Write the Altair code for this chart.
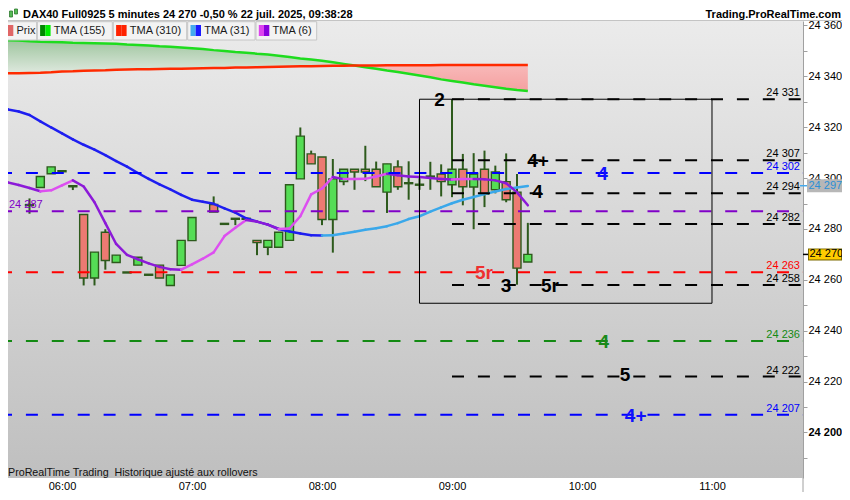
import altair as alt
import pandas as pd

FONT = "Liberation Sans"
W, H = 795, 457
X_DOM = [5.58462, 11.7]
Y_DOM = [24182.11, 24361.75]

# ---------------- data ----------------
title_left = "DAX40 Full0925 5 minutes 24 270 -0,50 % 22 juil. 2025, 09:38:28"
title_right = "Trading.ProRealTime.com"
footer = "ProRealTime Trading\u00a0\u00a0Historique ajusté aux rollovers"

candle_time = ["05:45", "05:50", "05:55", "06:00", "06:05", "06:10", "06:15", "06:20", "06:25", "06:30",
               "06:35", "06:40", "06:45", "06:50", "06:55", "07:00", "07:10", "07:15", "07:20", "07:25",
               "07:30", "07:35", "07:40", "07:45", "07:50", "07:55", "08:00", "08:05", "08:10", "08:15",
               "08:20", "08:25", "08:30", "08:35", "08:40", "08:45", "08:50", "08:55", "09:00", "09:05",
               "09:10", "09:15", "09:20", "09:25", "09:30", "09:35"]
candle_open = [24289.2, 24296.3, 24301.7, 24302.9, 24297.0, 24285.7, 24260.7, 24278.7, 24266.8, 24263.1,
               24265.8, 24262.2, 24265.8, 24257.8, 24265.7, 24275.4, 24289.6, 24282.2, 24284.2, 24284.2,
               24275.5, 24272.8, 24272.8, 24275.5, 24299.7, 24309.5, 24308.3, 24283.7, 24298.6, 24303.5,
               24303.5, 24303.5, 24294.5, 24304.4, 24298.2, 24297.6, 24300.8, 24301.6, 24297.4, 24303.5,
               24296.5, 24303.5, 24295.4, 24298.6, 24294.5, 24267.0]
candle_high = [24292.0, 24300.6, 24304.4, 24303.0, 24297.1, 24285.7, 24270.9, 24279.9, 24269.7, 24263.1,
               24268.9, 24262.2, 24265.8, 24261.9, 24275.5, 24284.5, 24292.8, 24282.2, 24284.2, 24284.2,
               24275.5, 24275.5, 24278.7, 24297.4, 24319.9, 24310.8, 24308.3, 24307.5, 24303.5, 24303.5,
               24312.7, 24306.5, 24305.6, 24307.0, 24306.6, 24299.9, 24306.4, 24305.4, 24331.0, 24309.5,
               24309.8, 24310.8, 24304.9, 24309.7, 24301.6, 24282.4]
candle_low = [24286.0, 24296.3, 24301.7, 24302.5, 24295.3, 24257.8, 24257.8, 24264.0, 24266.8, 24262.7,
              24265.8, 24261.8, 24260.7, 24257.8, 24265.7, 24275.4, 24286.7, 24281.8, 24281.5, 24283.8,
              24269.7, 24269.7, 24272.8, 24275.5, 24299.7, 24305.6, 24281.5, 24270.7, 24297.2, 24295.4,
              24298.8, 24296.6, 24286.3, 24295.4, 24291.5, 24295.4, 24295.4, 24292.8, 24292.5, 24289.3,
              24279.9, 24288.6, 24294.0, 24290.5, 24258.1, 24267.0]
candle_close = [24289.6, 24300.6, 24304.4, 24302.5, 24296.6, 24260.7, 24270.9, 24267.6, 24269.7, 24262.7,
                24268.9, 24261.8, 24260.7, 24261.9, 24275.5, 24284.5, 24286.7, 24281.8, 24283.8, 24283.8,
                24274.7, 24275.5, 24278.7, 24297.4, 24316.5, 24305.6, 24283.7, 24299.7, 24303.5, 24302.4,
                24302.4, 24296.6, 24305.6, 24296.6, 24297.8, 24297.2, 24300.4, 24298.6, 24303.5, 24296.6,
                24301.6, 24293.6, 24302.4, 24291.5, 24264.6, 24270.0]

ma_time = ["05:30", "05:35", "05:40", "05:45", "05:50", "05:55", "06:00", "06:05", "06:10", "06:15",
           "06:20", "06:25", "06:30", "06:35", "06:40", "06:45", "06:50", "06:55", "07:00", "07:05",
           "07:10", "07:15", "07:20", "07:25", "07:30", "07:35", "07:40", "07:45", "07:50", "07:55",
           "08:00", "08:05", "08:10", "08:15", "08:20", "08:25", "08:30", "08:35", "08:40", "08:45",
           "08:50", "08:55", "09:00", "09:05", "09:10", "09:15", "09:20", "09:25", "09:30", "09:35"]
tma155 = [24354.4, 24354.2, 24354.1, 24353.8, 24353.6, 24353.5, 24353.4, 24353.2, 24353.1, 24353.0,
          24352.9, 24352.8, 24352.5, 24352.3, 24352.1, 24351.8, 24351.6, 24351.3, 24351.0, 24350.7,
          24350.3, 24350.0, 24349.6, 24349.3, 24348.9, 24348.6, 24348.1, 24347.6, 24347.0, 24346.6,
          24346.1, 24345.5, 24344.9, 24344.3, 24343.6, 24343.0, 24342.3, 24341.7, 24341.0, 24340.3,
          24339.6, 24338.8, 24338.2, 24337.6, 24336.9, 24336.3, 24335.7, 24335.1, 24334.6, 24334.2]
tma310 = [24341.1, 24341.2, 24341.2, 24341.3, 24341.4, 24341.6, 24341.9, 24342.0, 24342.2, 24342.3,
          24342.4, 24342.6, 24342.7, 24342.8, 24342.8, 24342.9, 24343.0, 24343.0, 24343.1, 24343.2,
          24343.3, 24343.3, 24343.5, 24343.5, 24343.6, 24343.7, 24343.8, 24343.9, 24344.0, 24344.0,
          24344.1, 24344.2, 24344.2, 24344.3, 24344.3, 24344.3, 24344.4, 24344.4, 24344.4, 24344.4,
          24344.4, 24344.5, 24344.5, 24344.5, 24344.5, 24344.5, 24344.5, 24344.5, 24344.5, 24344.5]
tma31 = [24329.1, 24327.0, 24326.2, 24324.8, 24322.3, 24319.9, 24317.6, 24315.2, 24313.1, 24311.2,
         24309.0, 24306.7, 24304.5, 24302.0, 24299.7, 24297.5, 24295.6, 24293.4, 24291.5, 24290.7,
         24289.9, 24288.1, 24286.4, 24284.2, 24282.9, 24281.7, 24280.0, 24279.0, 24278.2, 24277.5,
         24277.4, 24277.5, 24278.2, 24278.9, 24279.7, 24280.3, 24281.1, 24282.3, 24283.9, 24285.0,
         24286.8, 24288.5, 24290.1, 24291.5, 24292.6, 24293.7, 24294.7, 24295.7, 24296.3, 24296.9]
tma6 = [24299.5, 24298.3, 24297.3, 24296.1, 24294.8, 24295.2, 24297.1, 24299.1, 24296.7, 24290.5,
        24282.3, 24274.1, 24269.8, 24268.1, 24266.5, 24265.1, 24264.2, 24264.0, 24266.1, 24268.3,
        24270.8, 24277.2, 24280.5, 24283.5, 24282.9, 24281.7, 24280.0, 24280.2, 24285.0, 24293.6,
        24295.9, 24300.4, 24299.6, 24299.6, 24299.7, 24300.6, 24301.7, 24301.1, 24300.6, 24300.4,
        24300.0, 24299.6, 24299.4, 24299.6, 24299.6, 24299.5, 24299.1, 24298.0, 24294.4, 24289.3]

level_price = [24331, 24307, 24302, 24294, 24287, 24282, 24263, 24258, 24236, 24222, 24207]
level_color = ["#000000", "#000000", "#0000ff", "#000000", "#8000c8", "#000000",
               "#ff0000", "#000000", "#138a13", "#000000", "#0000ff"]
level_from = ["09:00", "09:00", "", "09:00", "", "09:00", "", "09:00", "", "09:00", ""]

note_text = ["2", "4+", "4", "4", "5r", "3", "5r", "4", "5", "4+"]
note_hour = [8.904, 9.662, 10.158, 9.658, 9.246, 9.415, 9.754, 10.167, 10.331, 10.413]
note_price = [24331, 24307, 24302, 24295, 24263, 24258, 24258, 24236, 24223, 24207]
note_color = ["#000000", "#000000", "#1010ff", "#000000", "#ee3030", "#000000",
              "#000000", "#1a8a1a", "#000000", "#1010ff"]

box_from, box_to = "08:45", "11:00"
box_low, box_high = 24250.8, 24331

last_price = 24270
last_tma31 = 24297

legend_names = ["Prix", "TMA (155)", "TMA (310)", "TMA (31)", "TMA (6)"]
legend_col_a = ["#55cc55", "#008800", "#ff2200", "#44aaee", "#dd44ee"]
legend_col_b = ["#e06666", "#00ee00", "#ff2200", "#1a1aff", "#8800dd"]
legend_x0 = [0, 37.3, 113.3, 187.7, 256]
legend_x1 = [36.7, 112.3, 186.7, 255, 316.7]

y_tick_values = [24190, 24200, 24210, 24220, 24230, 24240, 24250, 24260, 24270, 24280, 24290,
                 24300, 24310, 24320, 24330, 24340, 24350, 24360]
x_tick_values = [6, 7, 8, 9, 10, 11]


def hrs(t):
    hh, mm = t.split(":")
    return int(hh) + int(mm) / 60.0


def fmt(p):
    return f"{int(round(p)):,}".replace(",", " ")


# ---------------- scales / axes ----------------
xs = alt.Scale(domain=X_DOM, nice=False, zero=False, padding=0)
ys = alt.Scale(domain=Y_DOM, nice=False, zero=False, padding=0)
x_axis = alt.Axis(values=x_tick_values,
                  labelExpr="(datum.value < 10 ? '0' : '') + datum.value + ':00'",
                  ticks=False, domain=False, grid=False, labelFont=FONT, labelFontSize=11,
                  labelColor="#000000", labelPadding=2, labelFlush=False, labelOverlap=False)
y_axis = alt.Axis(orient="right", values=y_tick_values,
                  labelExpr="datum.value % 20 === 0 ? replace(format(datum.value, ','), ',', ' ') : ''",
                  tickSize=4, tickColor="#a0a0a0", domainColor="#a0a0a0", grid=False,
                  labelFont=FONT, labelFontSize=11, labelColor="#000000", labelPadding=1,
                  labelOverlap=False, labelFlush=False,
                  labelFontWeight={"condition": {"test": "datum.value === 24200", "value": "bold"},
                                   "value": "normal"})


def X(f):
    return alt.X(f, type="quantitative", scale=xs, axis=x_axis, title=None)


def Y(f):
    return alt.Y(f, type="quantitative", scale=ys, axis=y_axis, title=None)


one = pd.DataFrame({"k": [0]})

# background gradient
bg = alt.Chart(one).mark_rect(fill={"gradient": "linear", "x1": 0, "y1": 0, "x2": 0, "y2": 1,
                                    "stops": [{"offset": 0, "color": "#ebebeb"},
                                              {"offset": 1, "color": "#bfbfbf"}]}).encode(
    x=alt.value(0), x2=alt.value(W), y=alt.value(0), y2=alt.value(H))

# long moving averages and fill between
ma = pd.DataFrame({"t": ma_time, "g": tma155, "r": tma310, "b": tma31, "m": tma6})
ma["h"] = ma["t"].map(hrs)
ma["g_top"] = ma[["g", "r"]].max(axis=1)
ma["p_bot"] = ma[["g", "r"]].min(axis=1)

fill_green = alt.Chart(ma).mark_area(clip=True, fill={
    "gradient": "linear", "x1": 0, "y1": 0, "x2": 0, "y2": 1,
    "stops": [{"offset": 0, "color": "#9ec59e"}, {"offset": 1, "color": "#dfe9df"}]}).encode(
    x=X("h"), y=Y("g_top"), y2=alt.Y2("r"))
fill_pink = alt.Chart(ma).mark_area(clip=True, fill={
    "gradient": "linear", "x1": 0, "y1": 0, "x2": 0, "y2": 1,
    "stops": [{"offset": 0, "color": "#f8b9b9"}, {"offset": 1, "color": "#f4a0a0"}]}).encode(
    x=X("h"), y=Y("r"), y2=alt.Y2("p_bot"))
line155 = alt.Chart(ma).mark_line(clip=True, color="#1edc1e", strokeWidth=2.5).encode(x=X("h"), y=Y("g"))
line310 = alt.Chart(ma).mark_line(clip=True, color="#ff2a00", strokeWidth=2.5).encode(x=X("h"), y=Y("r"))

# candles
cd = pd.DataFrame({"t": candle_time, "o": candle_open, "hi": candle_high,
                   "lo": candle_low, "c": candle_close})
cd["h"] = cd["t"].map(hrs)
cd["fill"] = ["#55dd55" if c >= o else "#ec7a72" for o, c in zip(cd["o"], cd["c"])]
DK = "#2d5a1c"
wicks = alt.Chart(cd).mark_rule(color=DK, strokeWidth=2).encode(x=X("h"), y=Y("lo"), y2=alt.Y2("hi"))
bodies = alt.Chart(cd).mark_bar(size=8, stroke=DK, strokeWidth=1.4).encode(
    x=X("h"), y=Y("o"), y2=alt.Y2("c"), fill=alt.Fill("fill:N", scale=None))


# short moving averages, coloured by slope
def segments(vals, up, down):
    rows = []
    for i in range(len(ma_time) - 1):
        rows.append({"h1": hrs(ma_time[i]), "h2": hrs(ma_time[i + 1]),
                     "p1": vals[i], "p2": vals[i + 1],
                     "col": up if vals[i + 1] >= vals[i] else down})
    return pd.DataFrame(rows)


def seg_chart(df):
    return alt.Chart(df).mark_rule(clip=True, strokeWidth=2.5, strokeCap="round").encode(
        x=X("h1"), x2=alt.X2("h2"), y=Y("p1"), y2=alt.Y2("p2"),
        color=alt.Color("col:N", scale=None))


ma31_layer = seg_chart(segments(tma31, "#3aa8ea", "#1e1ef0"))
ma6_layer = seg_chart(segments(tma6, "#dd4ff0", "#8c1ad8"))

# levels
lv = pd.DataFrame({"p": level_price, "col": level_color, "frm": level_from})
lv["x0"] = [hrs(f) if f else X_DOM[0] for f in lv["frm"]]
lv["x1"] = X_DOM[1]
lv["label"] = lv["p"].map(fmt)
lv_full = lv[lv["frm"] == ""]
lv_part = lv[lv["frm"] != ""]
lines_full = alt.Chart(lv_full).mark_rule(strokeWidth=2, strokeDash=[12, 13.9], strokeDashOffset=8).encode(
    x=X("x0"), x2=alt.X2("x1"), y=Y("p"), color=alt.Color("col:N", scale=None))
lines_part = alt.Chart(lv_part).mark_rule(strokeWidth=2, strokeDash=[12, 13.9]).encode(
    x=X("x0"), x2=alt.X2("x1"), y=Y("p"), color=alt.Color("col:N", scale=None))
lv_right = lv[lv["p"] != 24287]
lv_left = lv[lv["p"] == 24287]
labels_right = alt.Chart(lv_right).mark_text(align="right", baseline="alphabetic", dy=-3,
                                             font=FONT, fontSize=11).encode(
    x=alt.value(792), y=Y("p"), text="label:N", color=alt.Color("col:N", scale=None))
labels_left = alt.Chart(lv_left).mark_text(align="left", baseline="alphabetic", dy=-3,
                                           font=FONT, fontSize=11).encode(
    x=alt.value(1), y=Y("p"), text="label:N", color=alt.Color("col:N", scale=None))

# box
bx = pd.DataFrame({"a": [hrs(box_from)], "b": [hrs(box_to)], "lo": [box_low], "hi": [box_high]})
box = alt.Chart(bx).mark_rect(fill="transparent", stroke="#000000", strokeWidth=1).encode(
    x=X("a"), x2=alt.X2("b"), y=Y("lo"), y2=alt.Y2("hi"))

# wave annotations
nt = pd.DataFrame({"txt": note_text, "h": note_hour, "p": note_price, "col": note_color})
notes = alt.Chart(nt).mark_text(font=FONT, fontSize=19, fontWeight="bold", align="center",
                                baseline="alphabetic", dy=7).encode(
    x=X("h"), y=Y("p"), text="txt:N", color=alt.Color("col:N", scale=None))

# price boxes on the right axis
pb31 = pd.DataFrame({"p": [last_tma31], "label": [fmt(last_tma31)]})
pbl = pd.DataFrame({"p": [last_price], "label": [fmt(last_price)]})
box31 = alt.Chart(pb31).mark_rule(color="#b7b7b7", strokeWidth=13, strokeCap="butt").encode(
    x=alt.value(799), x2=alt.value(834), y=Y("p"))
tick31 = alt.Chart(pb31).mark_rule(color="#44aaee", strokeWidth=1.5).encode(
    x=alt.value(792), x2=alt.value(799), y=Y("p"))
txt31 = alt.Chart(pb31).mark_text(align="left", font=FONT, fontSize=11, color="#2b8fd6").encode(
    x=alt.value(800.5), y=Y("p"), text="label:N")
boxl_o = alt.Chart(pbl).mark_rule(color="#7d6b00", strokeWidth=12, strokeCap="butt").encode(
    x=alt.value(800), x2=alt.value(834), y=Y("p"))
boxl_i = alt.Chart(pbl).mark_rule(color="#ffcc00", strokeWidth=10, strokeCap="butt").encode(
    x=alt.value(801), x2=alt.value(833), y=Y("p"))
tickl = alt.Chart(pbl).mark_rule(color="#000000", strokeWidth=1.5).encode(
    x=alt.value(795), x2=alt.value(800), y=Y("p"))
txtl = alt.Chart(pbl).mark_text(align="left", font=FONT, fontSize=11, color="#000000").encode(
    x=alt.value(801.5), y=Y("p"), text="label:N")

# decorations: header, legend bar, footer
deco = []
deco.append(alt.Chart(one).mark_rule(color="#c4c4c4", strokeWidth=1).encode(
    x=alt.value(0), x2=alt.value(834), y=alt.value(-0.5)))
deco.append(alt.Chart(one).mark_rule(color="#a0a0a0", strokeWidth=1).encode(
    x=alt.value(W), y=alt.value(H), y2=alt.value(H + 14)))
deco.append(alt.Chart(one).mark_text(align="left", baseline="middle", font=FONT, fontSize=11,
                                     fontWeight="bold", color="#000000").encode(
    x=alt.value(15), y=alt.value(-6.5), text=alt.value(title_left)))
deco.append(alt.Chart(one).mark_text(align="right", baseline="middle", font=FONT, fontSize=11,
                                     fontWeight="bold", color="#000000").encode(
    x=alt.value(833), y=alt.value(-6.5), text=alt.value(title_right)))
# small icon
for ix0, iy0, iy1 in [(1.5, -10, -4), (6.5, -12, -7)]:
    deco.append(alt.Chart(one).mark_rect(fill="#55bb55", stroke="#2d7a2d", strokeWidth=0.8).encode(
        x=alt.value(ix0), x2=alt.value(ix0 + 3), y=alt.value(iy0), y2=alt.value(iy1)))
for i, name in enumerate(legend_names):
    x0 = legend_x0[i] - 8
    x1 = legend_x1[i] - 8
    deco.append(alt.Chart(one).mark_rect(fill="#f3f3f3", stroke="#c6c6c6", strokeWidth=1).encode(
        x=alt.value(x0), x2=alt.value(x1), y=alt.value(0.7), y2=alt.value(19)))
    deco.append(alt.Chart(one).mark_rect(fill=legend_col_a[i]).encode(
        x=alt.value(x0 + 2.8), x2=alt.value(x0 + 8), y=alt.value(4), y2=alt.value(15)))
    deco.append(alt.Chart(one).mark_rect(fill=legend_col_b[i]).encode(
        x=alt.value(x0 + 8), x2=alt.value(x0 + 13.3), y=alt.value(4), y2=alt.value(15)))
    deco.append(alt.Chart(one).mark_text(align="left", baseline="middle", font=FONT, fontSize=11,
                                         color="#1a1a1a").encode(
        x=alt.value(x0 + 16.5), y=alt.value(10), text=alt.value(name)))
deco.append(alt.Chart(one).mark_text(align="left", baseline="middle", font=FONT, fontSize=10.7,
                                     color="#111111").encode(
    x=alt.value(0), y=alt.value(452), text=alt.value(footer)))

chart = alt.layer(
    bg, fill_green, fill_pink, line155, line310,
    wicks, bodies, ma31_layer, ma6_layer,
    lines_full, lines_part, box, labels_right, labels_left, notes,
    box31, tick31, txt31, boxl_o, boxl_i, tickl, txtl,
    *deco
).properties(
    width=W, height=H,
    padding={"left": 0, "top": 13, "right": 39, "bottom": 14},
    autosize=alt.AutoSizeParams(type="none"),
    background="#ffffff",
).configure_view(stroke=None)

chart.save("out.html", embed_options={"renderer": "svg", "actions": False})
